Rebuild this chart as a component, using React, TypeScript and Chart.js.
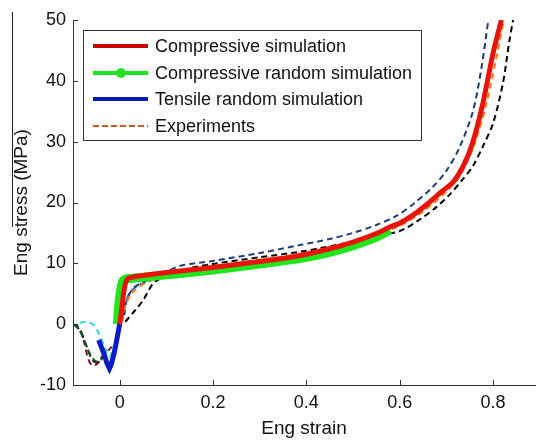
import React, { useEffect, useRef } from "react";
import { Chart, registerables } from "chart.js";

Chart.register(...registerables);

// ---------- data ----------
const xTickValues = [0, 0.2, 0.4, 0.6, 0.8];
const yTickValues = [-10, 0, 10, 20, 30, 40, 50];

const compSimStrain = [0.0, 0.004, 0.008, 0.012, 0.016, 0.025, 0.05, 0.1, 0.15, 0.2, 0.25, 0.3, 0.35, 0.4, 0.45, 0.5, 0.55, 0.58, 0.6, 0.63, 0.66, 0.69, 0.714, 0.735, 0.755, 0.778, 0.8, 0.818];
const compSimStress = [0, 2.2, 4.8, 6.6, 7.4, 7.7, 8.0, 8.5, 8.9, 9.3, 9.8, 10.3, 10.8, 11.5, 12.4, 13.5, 14.9, 16.0, 16.6, 18.0, 19.8, 21.8, 23.3, 25.8, 29.5, 36.2, 44.5, 50];

const compRandStrain = [-0.005, -0.002, 0.003, 0.008, 0.02, 0.05, 0.1, 0.15, 0.2, 0.25, 0.3, 0.35, 0.4, 0.45, 0.5, 0.55, 0.579];
const compRandStress = [0, 3.0, 6.0, 7.2, 7.5, 7.7, 8.1, 8.5, 8.9, 9.4, 9.9, 10.4, 11.0, 11.8, 12.9, 14.3, 15.5];

const tensRandStrain = [0.0, -0.006, -0.012, -0.018, -0.022, -0.027, -0.033, -0.04, -0.045];
const tensRandStress = [0, -2.5, -4.8, -6.6, -7.3, -6.5, -5.0, -3.6, -2.6];

const expNavyStrain = [0.01, 0.015, 0.029, 0.05, 0.1, 0.13, 0.2, 0.3, 0.386, 0.45, 0.5, 0.55, 0.593, 0.63, 0.67, 0.7, 0.728, 0.757, 0.775, 0.79];
const expNavyStress = [1.5, 3.9, 5.9, 6.9, 8.6, 9.6, 10.4, 11.7, 13.0, 14.0, 15.0, 16.3, 17.8, 19.8, 22.5, 25.2, 29.0, 35.0, 42.0, 50];

const expBlackStrain = [0.012, 0.03, 0.05, 0.072, 0.1, 0.15, 0.2, 0.3, 0.386, 0.45, 0.5, 0.55, 0.6, 0.643, 0.678, 0.707, 0.735, 0.757, 0.78, 0.8, 0.821, 0.835, 0.843];
const expBlackStress = [0.4, 2.0, 3.9, 6.7, 8.0, 9.2, 9.9, 11.0, 11.9, 12.8, 13.6, 14.5, 15.3, 17.2, 19.2, 21.3, 23.8, 26.0, 29.5, 33.0, 39.5, 46.5, 50];

const expOrangeStrain = [0.006, 0.012, 0.025, 0.047, 0.08, 0.15, 0.2, 0.3, 0.4, 0.5, 0.55, 0.6, 0.65, 0.7, 0.73, 0.76, 0.785, 0.805, 0.822];
const expOrangeStress = [0.5, 3.0, 5.0, 6.4, 7.6, 8.8, 9.5, 10.6, 11.7, 13.4, 14.7, 16.2, 18.5, 21.8, 24.5, 29.5, 36.0, 43.0, 49.5];

const expSteelStrain = [0.005, 0.012, 0.022, 0.04, 0.07, 0.1];
const expSteelStress = [1.0, 3.5, 5.2, 6.4, 7.3, 8.2];

const expMaroonStrain = [-0.1, -0.09, -0.082, -0.076, -0.07, -0.064, -0.057, -0.05, -0.042, -0.034, -0.026, -0.017];
const expMaroonStress = [0, -0.4, -1.3, -3.0, -5.0, -6.3, -6.8, -6.6, -6.0, -5.2, -4.5, -3.7];

const expGreenStrain = [-0.1, -0.088, -0.078, -0.068, -0.058, -0.048, -0.04, -0.033, -0.027];
const expGreenStress = [0, -0.8, -2.3, -4.2, -5.6, -6.2, -5.9, -5.0, -4.2];

const expCyanStrain = [-0.085, -0.075, -0.065, -0.056, -0.048, -0.04, -0.032, -0.026, -0.022, -0.018, -0.013];
const expCyanStress = [0.2, 0.4, 0.3, -0.1, -1.0, -2.3, -3.9, -5.0, -5.4, -4.9, -3.6];

const expBlackTensStrain = [-0.095, -0.082, -0.07, -0.062, -0.054, -0.046, -0.038, -0.03];
const expBlackTensStress = [0, -1.5, -3.8, -5.4, -6.2, -6.1, -5.4, -4.2];

const legendLabels = ["Compressive simulation", "Compressive random simulation", "Tensile random simulation", "Experiments"];

const pts = (xs: number[], ys: number[]) => xs.map((x, i) => ({ x, y: ys[i] }));

const FONT = '"Liberation Sans", Arial, sans-serif';

const decorPlugin = {
  id: "decor",
  afterDraw(chart: any) {
    const { ctx, chartArea, scales } = chart;
    const xs = scales.x;
    const ys = scales.y;
    ctx.save();
    // inward ticks
    ctx.strokeStyle = "#333";
    ctx.lineWidth = 1;
    ctx.beginPath();
    xs.ticks.forEach((t: any) => {
      const px = Math.round(xs.getPixelForValue(t.value)) + 0.5;
      ctx.moveTo(px, chartArea.bottom);
      ctx.lineTo(px, chartArea.bottom - 5);
    });
    ys.ticks.forEach((t: any) => {
      const py = Math.round(ys.getPixelForValue(t.value)) + 0.5;
      ctx.moveTo(chartArea.left, py);
      ctx.lineTo(chartArea.left + 5, py);
    });
    ctx.stroke();

    // thin line by the y title (as in the reference)
    ctx.strokeStyle = "#222";
    ctx.beginPath();
    ctx.moveTo(12.5, 12);
    ctx.lineTo(12.5, 227);
    ctx.stroke();

    // legend box
    const bx = chartArea.left + 10.5;
    const by = chartArea.top + 10.5;
    const bw = 338;
    const bh = 110;
    ctx.fillStyle = "#fff";
    ctx.fillRect(bx, by, bw, bh);
    ctx.strokeStyle = "#333";
    ctx.lineWidth = 1;
    ctx.strokeRect(bx, by, bw, bh);

    const items = [
      { color: "#c80000", width: 4, dash: [] as number[], marker: false },
      { color: "#22e022", width: 4, dash: [] as number[], marker: true },
      { color: "#0a1ab4", width: 4, dash: [] as number[], marker: false },
      { color: "#c8581e", width: 2, dash: [6, 3], marker: false },
    ];
    const rowY = [46, 73, 99, 126];
    ctx.font = `18px ${FONT}`;
    ctx.textBaseline = "middle";
    items.forEach((it, i) => {
      const y = rowY[i];
      ctx.strokeStyle = it.color;
      ctx.lineWidth = it.width;
      ctx.setLineDash(it.dash);
      ctx.beginPath();
      ctx.moveTo(93, y);
      ctx.lineTo(148, y);
      ctx.stroke();
      ctx.setLineDash([]);
      if (it.marker) {
        ctx.fillStyle = it.color;
        ctx.beginPath();
        ctx.arc(121, y, 5, 0, Math.PI * 2);
        ctx.fill();
      }
      ctx.fillStyle = "#111";
      ctx.fillText(legendLabels[i], 155, y + 1);
    });
    ctx.restore();
  },
};

export default function App() {
  const ref = useRef<HTMLCanvasElement | null>(null);

  useEffect(() => {
    document.body.style.margin = "0";
    if (!ref.current) return;
    const dashed = (label: string, xs: number[], ys: number[], color: string) => ({
      label,
      data: pts(xs, ys),
      borderColor: color,
      backgroundColor: color,
      borderWidth: 2,
      borderDash: [6, 4],
      pointRadius: 0,
      tension: 0.3,
      fill: false,
    });
    const chart = new Chart(ref.current, {
      type: "line",
      data: {
        datasets: [
          {
            label: legendLabels[2],
            data: pts(tensRandStrain, tensRandStress),
            borderColor: "#0a1ac8",
            borderWidth: 5,
            pointRadius: 0,
            tension: 0,
          },
          {
            label: legendLabels[0],
            data: pts(compSimStrain, compSimStress),
            borderColor: "#e8140a",
            borderWidth: 5,
            pointRadius: 0,
            tension: 0.2,
          },
          {
            label: legendLabels[1],
            data: pts(compRandStrain, compRandStress),
            borderColor: "#20e620",
            borderWidth: 9,
            pointRadius: 0,
            tension: 0.2,
          },
          dashed(legendLabels[3], expOrangeStrain, expOrangeStress, "#f07a18"),
          dashed("_navy", expNavyStrain, expNavyStress, "#1c3c78"),
          dashed("_black", expBlackStrain, expBlackStress, "#000000"),
          dashed("_steel", expSteelStrain, expSteelStress, "#2f70b8"),
          dashed("_cyan", expCyanStrain, expCyanStress, "#30d8e8"),
          dashed("_green", expGreenStrain, expGreenStress, "#145a24"),
          dashed("_blackT", expBlackTensStrain, expBlackTensStress, "#111111"),
          dashed("_maroon", expMaroonStrain, expMaroonStress, "#7a1428"),
        ] as any,
      },
      options: {
        animation: false,
        responsive: false,
        devicePixelRatio: 1,
        layout: { padding: { top: 20, right: 1, left: 0, bottom: 0 } },
        plugins: { legend: { display: false }, tooltip: { enabled: false } },
        scales: {
          x: {
            type: "linear",
            min: -0.1,
            max: 0.89,
            afterBuildTicks: (s: any) => {
              s.ticks = xTickValues.map((v) => ({ value: v }));
            },
            afterFit: (s: any) => {
              s.height = 55;
            },
            grid: { drawOnChartArea: false, drawTicks: false },
            border: { display: true, color: "#333", width: 1 },
            ticks: {
              padding: 7,
              color: "#111",
              font: { family: FONT, size: 18 },
              callback: (v: any) => String(v),
              maxRotation: 0,
            },
            title: {
              display: true,
              text: "Eng strain",
              color: "#111",
              font: { family: FONT, size: 19 },
              padding: { top: 0, bottom: 0 },
            },
          },
          y: {
            type: "linear",
            min: -10,
            max: 50,
            afterBuildTicks: (s: any) => {
              s.ticks = yTickValues.map((v) => ({ value: v }));
            },
            afterFit: (s: any) => {
              s.width = 73;
            },
            grid: { drawOnChartArea: false, drawTicks: false },
            border: { display: true, color: "#333", width: 1 },
            ticks: {
              padding: 7,
              color: "#111",
              font: { family: FONT, size: 18 },
              callback: (v: any) => String(v),
            },
            title: {
              display: true,
              text: "Eng stress (MPa)",
              color: "#111",
              font: { family: FONT, size: 19 },
              padding: { top: 10, bottom: 0 },
            },
          },
        },
      },
      plugins: [decorPlugin],
    } as any);
    return () => chart.destroy();
  }, []);

  return (
    <div style={{ width: 536, height: 440, position: "relative", background: "#fff" }}>
      <canvas ref={ref} width={536} height={440} style={{ display: "block" }} />
    </div>
  );
}
